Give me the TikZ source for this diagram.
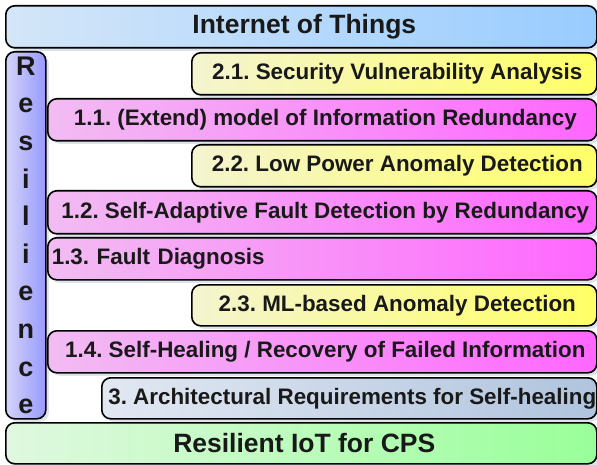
\documentclass[tikz,border=0pt]{standalone}
\usepackage{fontspec}
\setmainfont{Liberation Sans}
\usetikzlibrary{shadows}
\frenchspacing
\definecolor{iotL}{HTML}{D4E6F8}
\definecolor{iotR}{HTML}{99CCFF}
\definecolor{resL}{HTML}{D4D4F8}
\definecolor{resR}{HTML}{9999FF}
\definecolor{yelL}{HTML}{F4F4D0}
\definecolor{yelR}{HTML}{FFFF66}
\definecolor{magL}{HTML}{F2BCF2}
\definecolor{magR}{HTML}{FF66FF}
\definecolor{arcL}{HTML}{E2E8F2}
\definecolor{arcR}{HTML}{B0C4DE}
\definecolor{grnL}{HTML}{E0F8E0}
\definecolor{grnR}{HTML}{99FF99}
\definecolor{shd}{HTML}{8090B0}
\begin{document}
\begin{tikzpicture}[x=1pt,y=-1pt,
  boxbase/.style={draw=black, line width=1.6pt, rounded corners=9pt, inner sep=0pt,
    anchor=north west, text=black!90,
    font=\bfseries\fontsize{22.4}{26}\selectfont,
    drop shadow={shadow xshift=3pt, shadow yshift=-3pt, fill=shd, opacity=0.25}},
  titlebox/.style={boxbase, font=\bfseries\fontsize{26.5}{30}\selectfont},
  iotbox/.style={titlebox, left color=iotL, right color=iotR},
  grnbox/.style={titlebox, left color=grnL, right color=grnR},
  resbox/.style={boxbase, left color=resL, right color=resR, align=center,
    font=\bfseries\fontsize{27}{37.6}\selectfont},
  yelbox/.style={boxbase, left color=yelL, right color=yelR},
  magbox/.style={boxbase, left color=magL, right color=magR},
  arcbox/.style={boxbase, left color=arcL, right color=arcR}]
\useasboundingbox (0,0) rectangle (597,465);
\fill[white] (0,0) rectangle (597,465);

\node[iotbox, minimum width=591pt, minimum height=42pt] (iot) at (5,5) {\hspace*{6pt}Internet of Things};
\node[resbox, minimum width=40pt, minimum height=367pt] (res) at (5,51) {R\\e\\s\\i\\l\\i\\e\\n\\c\\e};
\node[yelbox, minimum width=405pt, minimum height=42pt] (b21) at (191,52) {\hspace*{6pt}2.1. Security Vulnerability Analysis};
\node[magbox, minimum width=549pt, minimum height=42pt] (b11) at (47,98) {\hspace*{6pt}1.1. (Extend) model of Information Redundancy};
\node[yelbox, minimum width=405pt, minimum height=42pt] (b22) at (191,144) {\hspace*{6pt}2.2. Low Power Anomaly Detection};
\node[magbox, minimum width=549pt, minimum height=43pt] (b12) at (47,190) {\hspace*{6pt}1.2. Self-Adaptive Fault Detection by Redundancy};
\node[magbox, minimum width=549pt, minimum height=42pt, text width=541pt, align=left, inner xsep=4pt] (b13) at (47,237) {1.3. Fault Diagnosis};
\node[yelbox, minimum width=405pt, minimum height=41pt] (b23) at (191,284) {\hspace*{6pt}2.3. ML-based Anomaly Detection};
\node[magbox, minimum width=549pt, minimum height=42pt] (b14) at (47,330) {\hspace*{6pt}1.4. Self-Healing / Recovery of Failed Information};
\node[arcbox, minimum width=495pt, minimum height=41pt] (b3) at (101,377) {\hspace*{6pt}3. Architectural Requirements for Self-healing};
\node[grnbox, minimum width=591pt, minimum height=41pt] (cps) at (5,422) {\hspace*{6pt}Resilient IoT for CPS};
\end{tikzpicture}
\end{document}
